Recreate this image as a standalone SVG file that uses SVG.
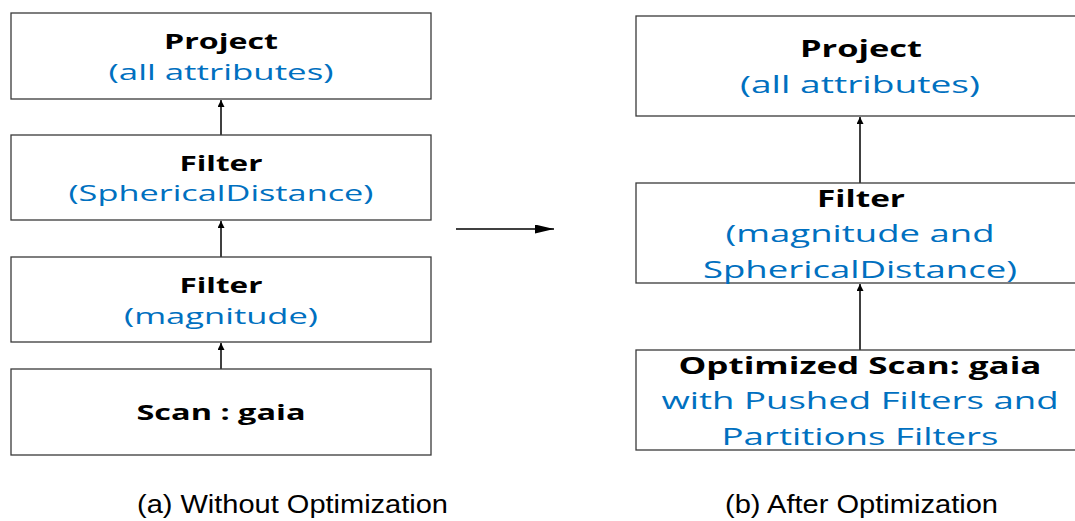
<svg xmlns="http://www.w3.org/2000/svg" width="1075" height="521" viewBox="0 0 1075 521">
<style>
.box{fill:#fff;stroke:#3a3a3a;stroke-width:1.3}
.t{font-family:"Open Sans","DejaVu Sans",sans-serif;text-anchor:middle;font-size:22px}
.r{font-size:24px}
.b{font-weight:bold;fill:#000}
.bl{fill:#0070c0}
.cap{font-family:"Liberation Sans",Arial,sans-serif;font-size:25px;fill:#000}
.c{stroke:#000;stroke-width:1.5;fill:none}
</style>
<defs>
<marker id="ah" markerUnits="userSpaceOnUse" markerWidth="8" markerHeight="8" refX="7" refY="3.5" orient="auto">
<path d="M0,0 L7,3.5 L0,7 Z" fill="#000"/>
</marker>
<marker id="ahb" markerUnits="userSpaceOnUse" markerWidth="20" markerHeight="10" refX="19" refY="4.5" orient="auto">
<path d="M0,0 L19,4.5 L0,9 Z" fill="#000"/>
</marker>
</defs>
<rect width="1075" height="521" fill="#fff"/>
<g id="connectors">
<line class="c" x1="221" y1="135" x2="221" y2="100" marker-end="url(#ah)"/>
<line class="c" x1="221" y1="257" x2="221" y2="221" marker-end="url(#ah)"/>
<line class="c" x1="221" y1="369" x2="221" y2="343" marker-end="url(#ah)"/>
<line class="c" x1="860" y1="183" x2="860" y2="117" marker-end="url(#ah)"/>
<line class="c" x1="860" y1="350" x2="860" y2="284" marker-end="url(#ah)"/>
<line class="c" x1="456" y1="229" x2="554" y2="229" marker-end="url(#ahb)"/>
</g>
<g id="l-project">
<rect class="box" x="11" y="13" width="420" height="86"/>
<text class="t b" x="221" y="49" textLength="114" lengthAdjust="spacingAndGlyphs">Project</text>
<text class="t bl" x="221" y="80" textLength="225" lengthAdjust="spacingAndGlyphs">(all attributes)</text>
</g>
<g id="l-filter1">
<rect class="box" x="11" y="135" width="420" height="85"/>
<text class="t b" x="221" y="171" textLength="83" lengthAdjust="spacingAndGlyphs">Filter</text>
<text class="t bl" x="221" y="201" textLength="305" lengthAdjust="spacingAndGlyphs">(SphericalDistance)</text>
</g>
<g id="l-filter2">
<rect class="box" x="11" y="257" width="420" height="85"/>
<text class="t b" x="221" y="293" textLength="83" lengthAdjust="spacingAndGlyphs">Filter</text>
<text class="t bl" x="221" y="324" textLength="194" lengthAdjust="spacingAndGlyphs">(magnitude)</text>
</g>
<g id="l-scan">
<rect class="box" x="11" y="369" width="420" height="86"/>
<text class="t b" x="221" y="420" textLength="169" lengthAdjust="spacingAndGlyphs">Scan : gaia</text>
</g>
<g id="r-project">
<rect class="box" x="636" y="16" width="448" height="100"/>
<text class="t r b" x="861" y="57" textLength="122" lengthAdjust="spacingAndGlyphs">Project</text>
<text class="t r bl" x="860" y="93" textLength="240" lengthAdjust="spacingAndGlyphs">(all attributes)</text>
</g>
<g id="r-filter">
<rect class="box" x="636" y="183" width="448" height="100"/>
<text class="t r b" x="861" y="207" textLength="88" lengthAdjust="spacingAndGlyphs">Filter</text>
<text class="t r bl" x="860" y="242" textLength="269" lengthAdjust="spacingAndGlyphs">(magnitude and</text>
<text class="t r bl" x="860" y="278" textLength="314" lengthAdjust="spacingAndGlyphs">SphericalDistance)</text>
</g>
<g id="r-scan">
<rect class="box" x="636" y="350" width="448" height="100"/>
<text class="t r b" x="860" y="374" textLength="363" lengthAdjust="spacingAndGlyphs">Optimized Scan: gaia</text>
<text class="t r bl" x="860" y="409" textLength="397" lengthAdjust="spacingAndGlyphs">with Pushed Filters and</text>
<text class="t r bl" x="860" y="445" textLength="277" lengthAdjust="spacingAndGlyphs">Partitions Filters</text>
</g>
<g id="captions">
<text class="cap" x="137" y="513" textLength="311" lengthAdjust="spacingAndGlyphs">(a) Without Optimization</text>
<text class="cap" x="725" y="513" textLength="273" lengthAdjust="spacingAndGlyphs">(b) After Optimization</text>
</g>
</svg>
